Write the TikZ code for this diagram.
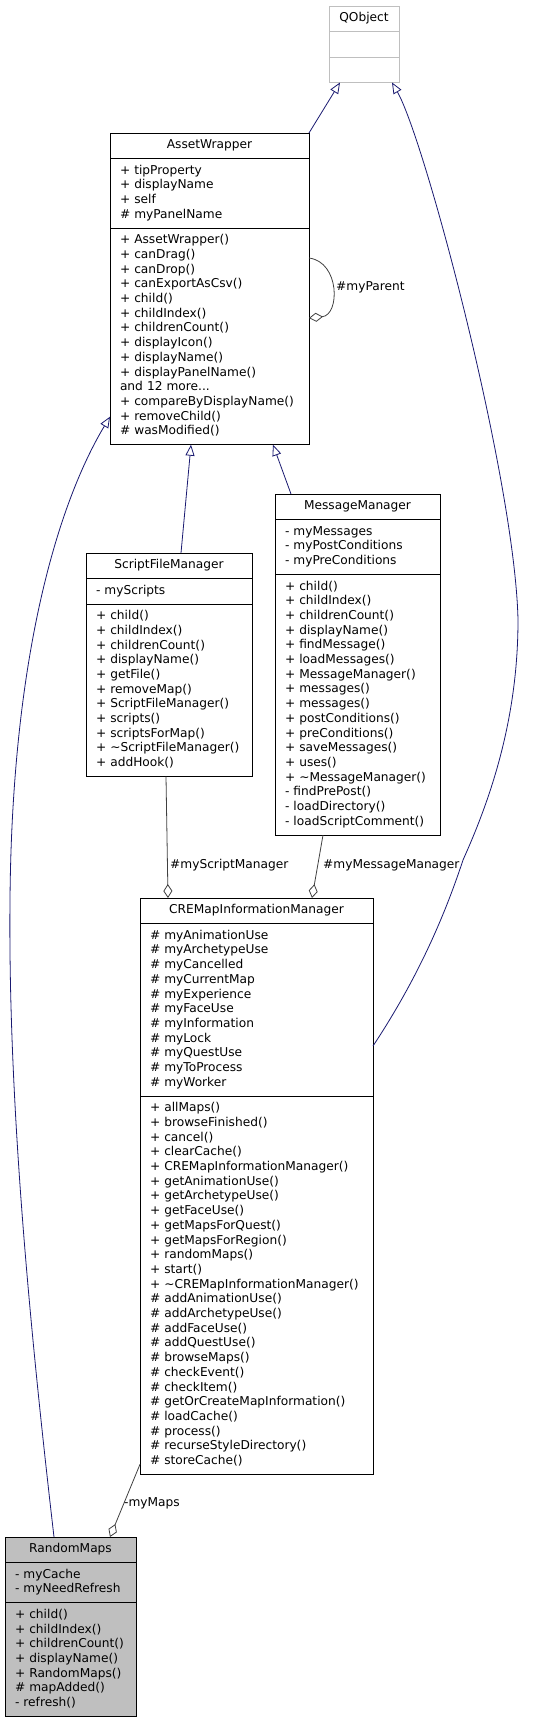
\documentclass[tikz,border=0pt]{standalone}
\usepackage{fontspec}
\setmainfont{DejaVu Sans}
\usetikzlibrary{shapes.multipart,arrows.meta}

\definecolor{navyedge}{HTML}{191970}
\definecolor{grayedge}{HTML}{404040}
\definecolor{grayfill}{HTML}{BFBFBF}
\newcommand{\ttl}[1]{\makebox[\linewidth]{\strut #1}}
\newcommand{\mbrs}[1]{\begin{tabular}{@{}l@{}}#1\end{tabular}}

\begin{document}
\begin{tikzpicture}[x=1pt,y=-1pt,
  cls/.style={rectangle split, rectangle split parts=3, draw, line width=0.8pt,
    anchor=north west, inner xsep=10pt, inner ysep=5pt, outer sep=0pt, align=left,
    font=\fontsize{12.2}{14.7}\selectfont},
  inh/.style={draw=navyedge, line width=0.8pt, -{Triangle[open,length=11pt,width=9pt,fill=white]}},
  agg/.style={draw=grayedge, line width=0.8pt, -{Diamond[open,length=14pt,width=9pt,fill=white]}},
  lbl/.style={font=\fontsize{12.2}{14.7}\selectfont, inner sep=0pt, anchor=west}]
  \useasboundingbox (0,0) rectangle (550,1721);

  \node[cls, draw=grayfill, text width=50pt] (qobj) at (329,6)
    {\ttl{QObject}\nodepart{two}\strut\nodepart{three}\strut};
  \node[cls, text width=179pt] (aw) at (110,133)
    {\ttl{AssetWrapper}
     \nodepart{two}\mbrs{+ tipProperty\\+ displayName\\+ self\\\# myPanelName}
     \nodepart{three}\mbrs{+ AssetWrapper()\\+ canDrag()\\+ canDrop()\\+ canExportAsCsv()\\+ child()\\+ childIndex()\\+ childrenCount()\\+ displayIcon()\\+ displayName()\\+ displayPanelName()\\and 12 more...\\+ compareByDisplayName()\\+ removeChild()\\\# wasModified()}};
  \node[cls, text width=146pt] (sfm) at (86,553)
    {\ttl{ScriptFileManager}
     \nodepart{two}\mbrs{- myScripts}
     \nodepart{three}\mbrs{+ child()\\+ childIndex()\\+ childrenCount()\\+ displayName()\\+ getFile()\\+ removeMap()\\+ ScriptFileManager()\\+ scripts()\\+ scriptsForMap()\\+ \textasciitilde ScriptFileManager()\\+ addHook()}};
  \node[cls, text width=145pt] (mm) at (275,494)
    {\ttl{MessageManager}
     \nodepart{two}\mbrs{- myMessages\\- myPostConditions\\- myPreConditions}
     \nodepart{three}\mbrs{+ child()\\+ childIndex()\\+ childrenCount()\\+ displayName()\\+ findMessage()\\+ loadMessages()\\+ MessageManager()\\+ messages()\\+ messages()\\+ postConditions()\\+ preConditions()\\+ saveMessages()\\+ uses()\\+ \textasciitilde MessageManager()\\- findPrePost()\\- loadDirectory()\\- loadScriptComment()}};
  \node[cls, text width=213pt] (cre) at (140,898)
    {\ttl{CREMapInformationManager}
     \nodepart{two}\mbrs{\# myAnimationUse\\\# myArchetypeUse\\\# myCancelled\\\# myCurrentMap\\\# myExperience\\\# myFaceUse\\\# myInformation\\\# myLock\\\# myQuestUse\\\# myToProcess\\\# myWorker}
     \nodepart{three}\mbrs{+ allMaps()\\+ browseFinished()\\+ cancel()\\+ clearCache()\\+ CREMapInformationManager()\\+ getAnimationUse()\\+ getArchetypeUse()\\+ getFaceUse()\\+ getMapsForQuest()\\+ getMapsForRegion()\\+ randomMaps()\\+ start()\\+ \textasciitilde CREMapInformationManager()\\\# addAnimationUse()\\\# addArchetypeUse()\\\# addFaceUse()\\\# addQuestUse()\\\# browseMaps()\\\# checkEvent()\\\# checkItem()\\\# getOrCreateMapInformation()\\\# loadCache()\\\# process()\\\# recurseStyleDirectory()\\\# storeCache()}};
  \node[cls, fill=grayfill, text width=111pt] (rm) at (5,1537)
    {\ttl{RandomMaps}
     \nodepart{two}\mbrs{- myCache\\- myNeedRefresh}
     \nodepart{three}\mbrs{+ child()\\+ childIndex()\\+ childrenCount()\\+ displayName()\\+ RandomMaps()\\\# mapAdded()\\- refresh()}};

  % inheritance
  \draw[inh] (aw.north east) -- ([xshift=11pt]qobj.south west);
  \draw[inh] ([yshift=-148pt]cre.north east) .. controls (410,990) and (440,930) .. (463,860)
    .. controls (490,800) and (518,720) .. (518,620)
    .. controls (515,480) and (425,140) .. ([xshift=-7pt]qobj.south east);
  \draw[inh] ([xshift=95pt]sfm.north west) -- ([xshift=81pt]aw.south west);
  \draw[inh] ([xshift=16pt]mm.north west) -- ([xshift=-36pt]aw.south east);
  \draw[inh] ([xshift=49pt]rm.north west) .. controls (30,1330) and (8,1100) .. (10,900)
    .. controls (12,650) and (60,500) .. ([yshift=28pt]aw.south west);

  % aggregation
  \draw[agg] ([yshift=-125pt]aw.north east) .. controls (340,262) and (340,315) .. ([yshift=-185pt]aw.north east);
  \node[lbl] (lparent) at (336,287) {\#myParent};
  \draw[agg] ([xshift=80pt]sfm.south west) -- ([xshift=28pt]cre.north west);
  \node[lbl] (lscript) at (170,865) {\#myScriptManager};
  \draw[agg] ([xshift=48pt]mm.south west) -- ([xshift=172pt]cre.north west);
  \node[lbl] (lmessage) at (323,865) {\#myMessageManager};
  \draw[agg] ([yshift=10pt]cre.south west) -- ([xshift=105pt]rm.north west);
  \node[lbl] (lmaps) at (124,1503) {-myMaps};
\end{tikzpicture}
\end{document}
